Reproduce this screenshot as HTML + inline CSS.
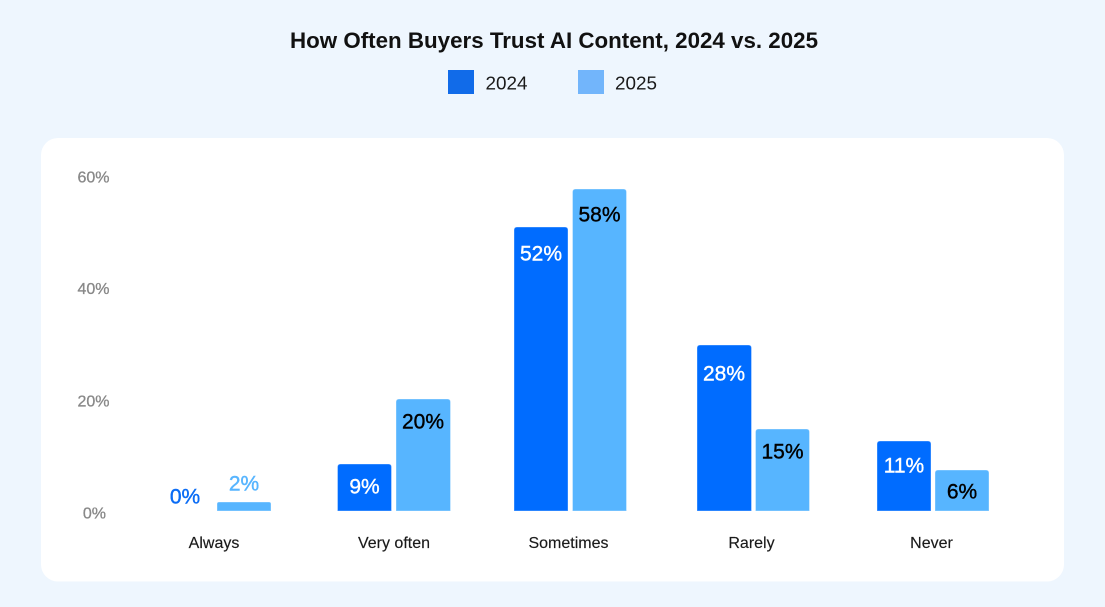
<!DOCTYPE html>
<html>
<head>
<meta charset="utf-8">
<style>
  html,body{margin:0;padding:0;background:#eef6fe;}
  svg{display:block;}
  text{font-family:"Liberation Sans",sans-serif;}
</style>
</head>
<body>
<svg width="1105" height="607" viewBox="0 0 1105 607" xmlns="http://www.w3.org/2000/svg">
  <rect x="0" y="0" width="1105" height="607" fill="#eef6fe"/>
  <!-- Title -->
  <text x="290" y="48" font-size="22" font-weight="bold" fill="#111" textLength="528" lengthAdjust="spacingAndGlyphs">How Often Buyers Trust AI Content, 2024 vs. 2025</text>
  <!-- Legend -->
  <rect x="448" y="70" width="26" height="24" fill="#116be9"/>
  <text x="485.5" y="89.5" font-size="18" fill="#1a1a1a" textLength="42" lengthAdjust="spacingAndGlyphs">2024</text>
  <rect x="578" y="70" width="26" height="24" fill="#72b5fb"/>
  <text x="615" y="89.5" font-size="18" fill="#1a1a1a" textLength="42" lengthAdjust="spacingAndGlyphs">2025</text>

  <!-- Card -->
  <rect x="41" y="138" width="1023" height="443.5" rx="17" ry="17" fill="#ffffff"/>

  <!-- Y axis labels -->
  <g font-size="16" fill="#888888" stroke="#888888" stroke-width="0.3" text-anchor="end">
    <text x="109.5" y="182.5">60%</text>
    <text x="109.5" y="294">40%</text>
    <text x="109.5" y="406.5">20%</text>
    <text x="106" y="518.5">0%</text>
  </g>

  <!-- Bars -->
  <g stroke="#ffffff" stroke-opacity="0.35" stroke-width="1">
    <!-- Always -->
    <path d="M217,511 V504 Q217,502 219,502 H269 Q271,502 271,504 V511 Z" fill="#57b5ff"/>
    <!-- Very often -->
    <path d="M337.5,511 V467 Q337.5,464 340.5,464 H388.5 Q391.5,464 391.5,467 V511 Z" fill="#006cff"/>
    <path d="M396,511 V402 Q396,399 399,399 H447.5 Q450.5,399 450.5,402 V511 Z" fill="#57b5ff"/>
    <!-- Sometimes -->
    <path d="M514,511 V230 Q514,227 517,227 H565 Q568,227 568,230 V511 Z" fill="#006cff"/>
    <path d="M572.5,511 V192 Q572.5,189 575.5,189 H623.5 Q626.5,189 626.5,192 V511 Z" fill="#57b5ff"/>
    <!-- Rarely -->
    <path d="M697,511 V348 Q697,345 700,345 H748.5 Q751.5,345 751.5,348 V511 Z" fill="#006cff"/>
    <path d="M755.5,511 V432 Q755.5,429 758.5,429 H806.5 Q809.5,429 809.5,432 V511 Z" fill="#57b5ff"/>
    <!-- Never -->
    <path d="M877,511 V444 Q877,441 880,441 H928 Q931,441 931,444 V511 Z" fill="#006cff"/>
    <path d="M935,511 V473 Q935,470 938,470 H986 Q989,470 989,473 V511 Z" fill="#57b5ff"/>
  </g>

  <!-- Bar value labels -->
  <g font-size="21" text-anchor="middle" stroke-width="0.4">
    <text x="185" y="503.5" fill="#0a6cf5" stroke="#0a6cf5">0%</text>
    <text x="244" y="490.5" fill="#57b5ff" stroke="#57b5ff">2%</text>
    <text x="364.5" y="493.5" fill="#ffffff" stroke="#ffffff">9%</text>
    <text x="423" y="428.5" fill="#000000" stroke="#000000">20%</text>
    <text x="541" y="260.5" fill="#ffffff" stroke="#ffffff">52%</text>
    <text x="599.5" y="221.5" fill="#000000" stroke="#000000">58%</text>
    <text x="724" y="380.5" fill="#ffffff" stroke="#ffffff">28%</text>
    <text x="782.5" y="458.5" fill="#000000" stroke="#000000">15%</text>
    <text x="904" y="472.5" fill="#ffffff" stroke="#ffffff">11%</text>
    <text x="962" y="498.5" fill="#000000" stroke="#000000">6%</text>
  </g>

  <!-- Category labels -->
  <g font-size="16" fill="#1a1a1a" stroke="#1a1a1a" stroke-width="0.15" text-anchor="middle">
    <text x="214" y="548">Always</text>
    <text x="394" y="548">Very often</text>
    <text x="568.5" y="548">Sometimes</text>
    <text x="751.5" y="548">Rarely</text>
    <text x="931.5" y="548">Never</text>
  </g>
</svg>
</body>
</html>
